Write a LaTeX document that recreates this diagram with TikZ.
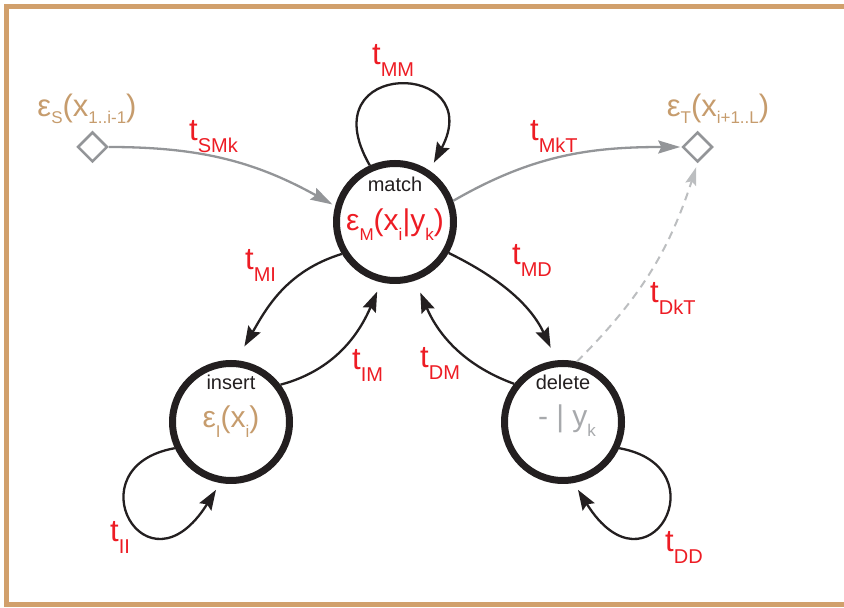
\documentclass[tikz,border=0pt]{standalone}
\usepackage{fontspec}
\setmainfont{Liberation Sans}
\usepackage{xcolor}
\usepackage{tikz}
\usetikzlibrary{arrows.meta,shapes.geometric}
\definecolor{ink}{HTML}{231F20}
\definecolor{hmmred}{HTML}{ED1C24}
\definecolor{emistan}{HTML}{C69C6D}
\definecolor{frametan}{HTML}{D1A06C}
\definecolor{edgegray}{HTML}{939598}
\definecolor{dashgray}{HTML}{BCBEC0}
\definecolor{gapgray}{HTML}{A7A9AC}

% subscripts hang well below the baseline; size and drop are set by the node font
\def\subsize{17}\def\subdrop{10pt}
\newcommand{\idx}[1]{\raisebox{-\subdrop}{\fontsize{\subsize}{\subsize}\selectfont #1}}

\begin{document}
\begin{tikzpicture}[x=1pt, y=1pt,
  state/.style={circle, draw=ink, line width=7pt, minimum size=117pt, inner sep=0pt},
  gate/.style={diamond, draw=edgegray, line width=2.5pt, minimum size=30pt, inner sep=0pt, fill=white},
  tag/.style={inner sep=0pt, anchor=base, text=ink, font=\fontsize{20}{20}\selectfont},
  emis/.style={inner sep=0pt, anchor=base, font={\fontsize{30}{30}\selectfont\def\subsize{17}\def\subdrop{10pt}}},
  ends/.style={inner sep=0pt, anchor=base, text=emistan, font={\fontsize{31}{31}\selectfont\def\subsize{17}\def\subdrop{7pt}}},
  rate/.style={inner sep=0pt, anchor=base west, text=hmmred, font={\fontsize{31}{31}\selectfont\def\subsize{20}\def\subdrop{12pt}}},
  trans/.style={draw=ink, line width=2.3pt, -{Stealth[length=20pt, width=14pt, inset=3pt]}},
  side/.style={draw=edgegray, line width=2.3pt, -{Stealth[length=22pt, width=13pt, inset=3pt]}},
  faint/.style={draw=dashgray, line width=2pt, dash pattern=on 8pt off 6pt, -{Stealth[length=18pt, width=11pt, inset=3pt]}}]

  \useasboundingbox (0,0) rectangle (844,608);
  % frame runs off the right edge of the page
  \draw[frametan, line width=5pt] (6.7,3) rectangle (850,601);

  % the three states and the two flanking ends
  \node[state] (match)  at (395,386) {};
  \node[state] (insert) at (231,186) {};
  \node[state] (delete) at (563,186) {};
  \node[gate] (begin) at (92.5,461) {};
  \node[gate] (end)   at (697.5,461) {};

  \node[tag] (match-name)  at ([yshift=30pt]match.center)  {match};
  \node[tag] (insert-name) at ([yshift=32pt]insert.center) {insert};
  \node[tag] (delete-name) at ([yshift=32pt]delete.center) {delete};

  \node[emis, text=hmmred]  (match-emis)  at ([yshift=-9pt]match.center)  {ε\idx{M}(x\idx{i}|y\idx{k})};
  \node[emis, text=emistan] (insert-emis) at ([yshift=-6pt]insert.center) {ε\idx{I}(x\idx{i})};
  \node[emis, text=gapgray] (delete-emis) at ([xshift=4pt, yshift=-5pt]delete.center) {- | y\idx{k}};

  \node[ends] (begin-emis) at (87,491)  {ε\idx{S}(x\idx{1..i-1})};
  \node[ends] (end-emis)   at (718,491) {ε\idx{T}(x\idx{i+1..L})};

  % transition probabilities
  \foreach \nm/\x/\y in {MM/372/543, SMk/189/467, MkT/530/467, MI/245/338,
                         IM/352/238, MD/512/343, DM/420/240, DkT/650/305,
                         II/110/66, DD/665/56}
    \node[rate] (t\nm) at (\x,\y) {t\idx{\nm}};

  % flanking transitions
  \draw[side, shorten >=3pt] (begin.east) to[out=0, in=151] (match.165);
  \draw[side, shorten >=1pt] (match.20) to[out=30, in=180] (end.west);
  \draw[faint, shorten >=4pt] (delete.77) to[out=45, in=252] (end.south);

  % between states
  \draw[trans, shorten >=16pt] (match.211) to[out=197, in=60] (insert.85);
  \draw[trans, shorten >=10pt] (insert.37) to[out=15, in=247] (match.257);
  \draw[trans, shorten >=14pt] (match.330) to[out=-26, in=115] (delete.96);
  \draw[trans, shorten >=13pt] (delete.142) to[out=160, in=293] (match.289);

  % self loops
  \draw[trans, shorten >=9pt] (match.114) .. controls +(120:125pt) and +(62:125pt) .. (match.56);
  \draw[trans, shorten >=8pt] (insert.205) .. controls +(190:105pt) and +(238:140pt) .. (insert.260);
  \draw[trans, shorten >=8pt] (delete.335) .. controls +(350:105pt) and +(302:140pt) .. (delete.280);

\end{tikzpicture}
\end{document}
